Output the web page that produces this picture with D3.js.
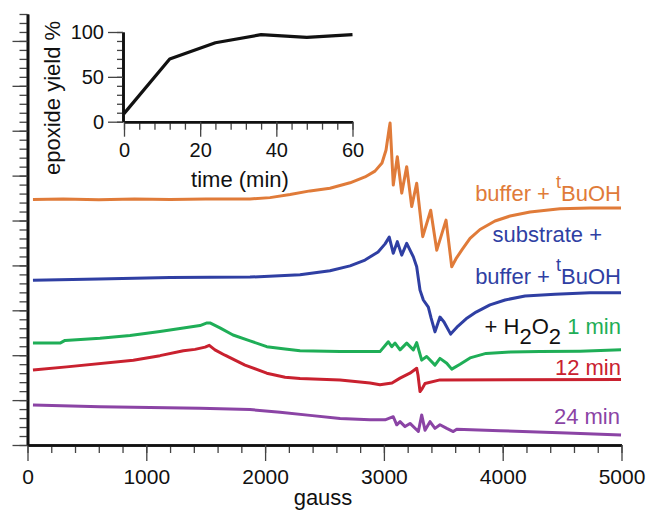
<!DOCTYPE html>
<html>
<head>
<meta charset="utf-8">
<script src="https://cdn.jsdelivr.net/npm/d3@7"></script>
<style>
  body { margin: 0; background: #fff; }
  svg text { font-family: "Liberation Sans", Arial, Helvetica, sans-serif; }
</style>
</head>
<body>
<div id="chart"></div>
<script>
var W = 647, H = 514;

// EPR traces: [gauss, intensity offset]
var orangeTrace = [[46,5.47],[300,5.48],[600,5.46],[900,5.48],[1200,5.47],[1500,5.48],[1873,5.48],[2041,5.51],[2210,5.58],[2378,5.66],[2546,5.72],[2715,5.84],[2841,5.97],[2925,6.10],[2984,6.28],[3018,6.57],[3045,7.06],[3052,7.17],[3079,5.79],[3113,6.42],[3150,5.61],[3192,6.20],[3234,5.31],[3276,5.83],[3327,4.64],[3394,5.23],[3445,4.34],[3523,5.01],[3571,3.97],[3607,4.15],[3658,4.35],[3725,4.60],[3809,4.80],[3935,4.99],[4062,5.10],[4230,5.19],[4482,5.26],[4735,5.28],[4996,5.28]];
var blueTrace = [[46,3.67],[600,3.70],[1200,3.73],[1873,3.74],[2294,3.79],[2546,3.88],[2715,3.99],[2841,4.12],[2951,4.30],[3010,4.48],[3045,4.63],[3079,4.27],[3113,4.53],[3150,4.23],[3192,4.49],[3248,4.19],[3276,3.97],[3304,3.45],[3332,3.23],[3374,3.07],[3397,2.83],[3430,2.52],[3472,2.85],[3506,2.74],[3562,2.47],[3624,2.65],[3692,2.81],[3776,2.96],[3893,3.12],[4020,3.23],[4188,3.32],[4440,3.36],[4735,3.39],[4996,3.39]];
var greenTrace = [[46,2.27],[274,2.27],[316,2.33],[610,2.38],[863,2.44],[1115,2.53],[1326,2.61],[1452,2.66],[1511,2.72],[1536,2.72],[1620,2.61],[1730,2.45],[1873,2.32],[2014,2.19],[2168,2.14],[2294,2.10],[2631,2.08],[2967,2.08],[3037,2.30],[3066,2.19],[3094,2.27],[3136,2.12],[3192,2.27],[3248,2.12],[3276,2.28],[3318,1.89],[3360,1.97],[3430,1.78],[3472,1.93],[3529,1.82],[3571,1.69],[3641,1.80],[3725,1.94],[3860,2.04],[4062,2.07],[4314,2.08],[4651,2.09],[4996,2.12]];
var redTrace = [[46,1.67],[330,1.74],[891,1.89],[1115,1.99],[1312,2.10],[1410,2.13],[1495,2.18],[1530,2.22],[1578,2.12],[1662,2.00],[1831,1.78],[2014,1.60],[2168,1.51],[2294,1.48],[2631,1.45],[2883,1.38],[2967,1.34],[3068,1.38],[3136,1.49],[3219,1.60],[3276,1.71],[3287,1.56],[3304,1.19],[3321,1.25],[3346,1.37],[3472,1.45],[4996,1.46]];
var purpleTrace = [[46,0.89],[610,0.85],[1452,0.82],[1873,0.79],[2126,0.73],[2378,0.66],[2631,0.59],[2883,0.56],[3010,0.56],[3079,0.63],[3108,0.45],[3136,0.52],[3178,0.41],[3220,0.48],[3290,0.30],[3318,0.67],[3346,0.33],[3388,0.52],[3430,0.37],[3472,0.45],[3529,0.37],[3584,0.30],[3613,0.35],[3977,0.32],[4539,0.27],[4996,0.22]];

var traceColors = ["#e07b39", "#2f3fa3", "#1fae57", "#c9212f", "#8b44a5"];

// inset: epoxide yield vs time
var insetTime = [0, 12, 24, 36, 48, 60];
var insetYield = [9, 70, 88, 97, 94, 97];

var xTicksMain = [0, 1000, 2000, 3000, 4000, 5000];
var xTicksInset = [0, 20, 40, 60];
var yTicksInset = [0, 50, 100];

var svg = d3.select("#chart").append("svg")
    .attr("width", W)
    .attr("height", H);

var x = d3.scaleLinear().domain([0, 5000]).range([27.5, 621.5]);
var y = d3.scaleLinear().domain([0, 9.6]).range([445, 14]);

function styleAxis(g) {
  g.select(".domain").attr("stroke", "#111").attr("stroke-width", 2.6);
  g.selectAll(".tick line").attr("stroke", "#444").attr("stroke-width", 1.3);
}

// minor ticks first, majors on top
svg.append("g")
    .attr("transform", "translate(0,445)")
    .call(d3.axisBottom(x).tickValues(d3.range(0, 5001, 200)).tickSize(8).tickSizeOuter(0).tickFormat(""))
    .call(styleAxis);
svg.append("g")
    .attr("transform", "translate(0,445)")
    .call(d3.axisBottom(x).tickValues(xTicksMain).tickSize(16).tickSizeOuter(0).tickPadding(8).tickFormat(d3.format("d")))
    .call(styleAxis)
    .selectAll("text").attr("font-size", 21).attr("fill", "#111")
    .attr("font-family", "Liberation Sans, Arial, sans-serif");

svg.append("g")
    .attr("transform", "translate(27.5,0)")
    .call(d3.axisLeft(y).tickValues(d3.range(0, 9.61, 0.2)).tickSize(8).tickSizeOuter(0).tickFormat(""))
    .call(styleAxis);
svg.append("g")
    .attr("transform", "translate(27.5,0)")
    .call(d3.axisLeft(y).tickValues(d3.range(0, 9.5, 1)).tickSize(15).tickSizeOuter(0).tickFormat(""))
    .call(styleAxis);

svg.append("text")
    .attr("x", 323).attr("y", 505)
    .attr("text-anchor", "middle")
    .attr("font-size", 22).attr("fill", "#111")
    .text("gauss");

var line = d3.line()
    .x(function(d) { return x(d[0]); })
    .y(function(d) { return y(d[1]); });

var traces = [orangeTrace, blueTrace, greenTrace, redTrace, purpleTrace];
svg.selectAll(".trace")
    .data(traces)
  .enter().append("path")
    .attr("class", "trace")
    .attr("d", line)
    .attr("fill", "none")
    .attr("stroke", function(d, i) { return traceColors[i]; })
    .attr("stroke-width", 3)
    .attr("stroke-linejoin", "round");

// trace labels
function tLabel(xx, yy, color) {
  return svg.append("text").attr("x", xx).attr("y", yy)
    .attr("text-anchor", "end").attr("font-size", 22).attr("fill", color);
}
var l1 = tLabel(621, 201, traceColors[0]);
l1.append("tspan").text("buffer + ");
l1.append("tspan").attr("dy", -13).attr("font-size", 18).text("t");
l1.append("tspan").attr("dy", 13).text("BuOH");

tLabel(602, 242, traceColors[1]).text("substrate +");
var l2 = tLabel(621, 284, traceColors[1]);
l2.append("tspan").text("buffer + ");
l2.append("tspan").attr("dy", -13).attr("font-size", 18).text("t");
l2.append("tspan").attr("dy", 13).text("BuOH");

var l3 = tLabel(621, 334, "#111");
l3.append("tspan").text("+ H");
l3.append("tspan").attr("dy", 10).text("2");
l3.append("tspan").attr("dy", -10).text("O");
l3.append("tspan").attr("dy", 10).text("2");
l3.append("tspan").attr("dy", -10).attr("fill", traceColors[2]).text(" 1 min");

tLabel(621, 375, traceColors[3]).text("12 min");
tLabel(620, 424, traceColors[4]).text("24 min");

// inset
var xi = d3.scaleLinear().domain([0, 60]).range([124, 352.5]);
var yi = d3.scaleLinear().domain([0, 100]).range([121.7, 32]);

svg.append("g")
    .attr("transform", "translate(0,121.7)")
    .call(d3.axisBottom(xi).tickValues(d3.range(0, 61, 4)).tickSize(8).tickSizeOuter(0).tickFormat(""))
    .call(styleAxis);
svg.append("g")
    .attr("transform", "translate(0,121.7)")
    .call(d3.axisBottom(xi).tickValues(xTicksInset).tickSize(15).tickSizeOuter(0).tickPadding(6))
    .call(styleAxis)
    .selectAll("text").attr("font-size", 20).attr("fill", "#111")
    .attr("font-family", "Liberation Sans, Arial, sans-serif");

svg.append("g")
    .attr("transform", "translate(123,0)")
    .call(d3.axisLeft(yi).tickValues(d3.range(0, 101, 10)).tickSize(6).tickSizeOuter(0).tickFormat(""))
    .call(styleAxis);
svg.append("g")
    .attr("transform", "translate(123,0)")
    .call(d3.axisLeft(yi).tickValues(yTicksInset).tickSize(15).tickSizeOuter(0).tickPadding(4))
    .call(styleAxis)
    .selectAll("text").attr("font-size", 20).attr("fill", "#111")
    .attr("font-family", "Liberation Sans, Arial, sans-serif");

svg.append("text")
    .attr("x", 240).attr("y", 187)
    .attr("text-anchor", "middle")
    .attr("font-size", 22).attr("fill", "#111")
    .text("time (min)");

svg.append("text")
    .attr("transform", "translate(60,98) rotate(-90)")
    .attr("text-anchor", "middle")
    .attr("font-size", 22).attr("fill", "#111")
    .text("epoxide yield %");

var insetData = insetTime.map(function(t, i) { return [t, insetYield[i]]; });
svg.append("path")
    .datum(insetData)
    .attr("d", d3.line().x(function(d) { return xi(d[0]); }).y(function(d) { return yi(d[1]); }))
    .attr("fill", "none")
    .attr("stroke", "#111")
    .attr("stroke-width", 3.2)
    .attr("stroke-linejoin", "round");
</script>
</body>
</html>
